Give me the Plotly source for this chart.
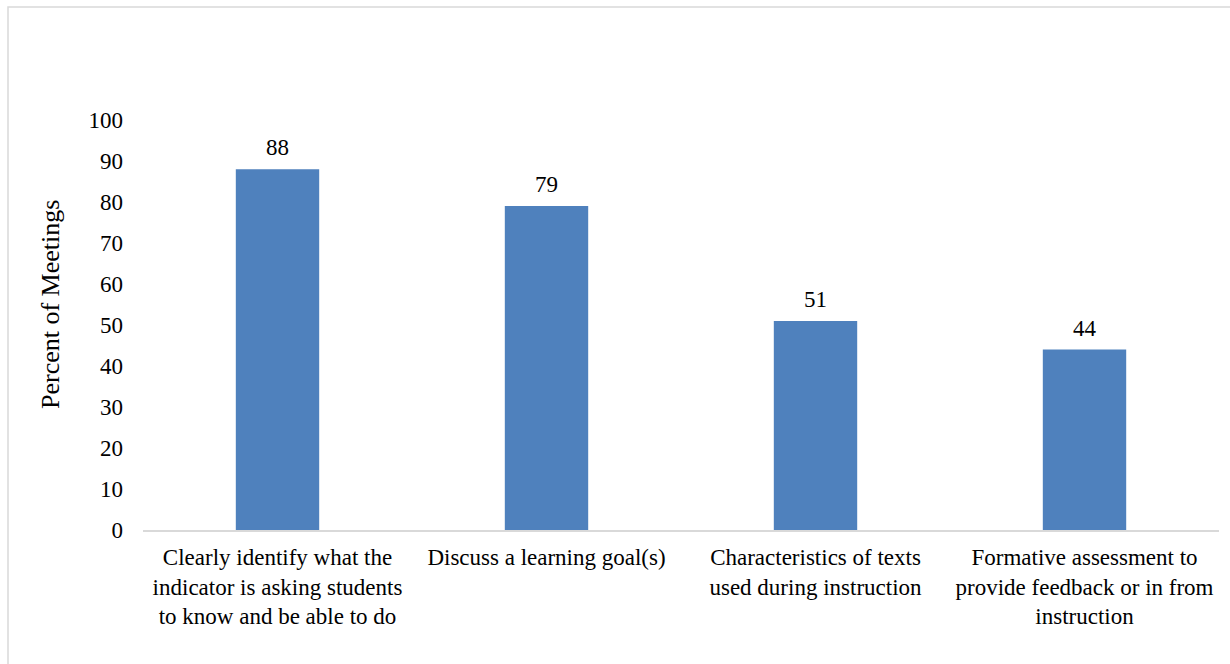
import plotly.graph_objects as go

categories = [
    "Clearly identify what the<br>indicator is asking students<br>to know and be able to do",
    "Discuss a learning goal(s)",
    "Characteristics of texts<br>used during instruction",
    "Formative assessment to<br>provide feedback or in from<br>instruction",
]
percent_meetings = [88, 79, 51, 44]
y_ticks = [0, 10, 20, 30, 40, 50, 60, 70, 80, 90, 100]

W, H = 1230, 664
ML, MR, MT, MB = 143, 11, 120, 134
pw, ph = W - ML - MR, H - MT - MB

FAMILY = "Liberation Serif"
tick_font = dict(family=FAMILY, size=23, color="#000000")
label_font = dict(family=FAMILY, size=23, color="#000000")
title_font = dict(family=FAMILY, size=26, color="#000000")

fig = go.Figure(
    go.Bar(
        x=categories,
        y=percent_meetings,
        marker=dict(color="#4F81BD", line=dict(width=0)),
        width=0.31,
        hoverinfo="x+y",
    )
)

# value labels above each bar
annotations = [
    dict(
        x=c,
        y=v,
        text=str(v),
        showarrow=False,
        yanchor="bottom",
        yshift=7,
        font=label_font,
    )
    for c, v in zip(categories, percent_meetings)
]

annotations.append(
    dict(
        text="Percent of Meetings",
        textangle=-90,
        xref="paper",
        yref="paper",
        x=(50 - ML) / pw,
        y=(MT + ph - 305) / ph,
        showarrow=False,
        font=title_font,
        xanchor="center",
        yanchor="middle",
    )
)

fig.update_layout(
    width=W,
    height=H,
    margin=dict(l=ML, r=MR, t=MT, b=MB),
    paper_bgcolor="white",
    plot_bgcolor="white",
    font=tick_font,
    showlegend=False,
    xaxis=dict(
        showline=True,
        linecolor="#D9D9D9",
        linewidth=2,
        showgrid=False,
        ticks="",
        tickfont=tick_font,
        tickangle=0,
        ticklabelstandoff=5,
    ),
    yaxis=dict(
        range=[0, 100],
        tickvals=y_ticks,
        showgrid=False,
        showline=False,
        zeroline=False,
        ticks="",
        tickfont=tick_font,
        ticklabelstandoff=19,
    ),
    annotations=annotations,
    shapes=[
        dict(
            type="rect",
            xref="paper",
            yref="paper",
            x0=(8 - ML) / pw,
            x1=(W + 5 - ML) / pw,
            y0=(MT + ph - (H + 5)) / ph,
            y1=(MT + ph - 7) / ph,
            line=dict(color="#D9D9D9", width=1.5),
            fillcolor="rgba(0,0,0,0)",
            layer="below",
        )
    ],
)

fig.write_html("out.html")
